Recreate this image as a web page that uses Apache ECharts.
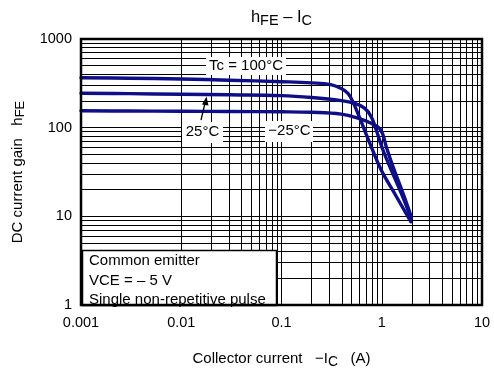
<!DOCTYPE html>
<html>
<head>
<meta charset="utf-8">
<script src="https://cdn.jsdelivr.net/npm/echarts@6/dist/echarts.min.js"></script>
<style>
html,body{margin:0;padding:0;background:#fff;}
#c{width:494px;height:374px;}
</style>
</head>
<body>
<div id="c"></div>
<script>
// ---- data ----
const xTickValues = [0.001, 0.01, 0.1, 1, 10];
const xTickLabels = ['0.001', '0.01', '0.1', '1', '10'];
const yTickValues = [1, 10, 100, 1000];
const yTickLabels = ['1', '10', '100', '1000'];

const seriesNames = ['Tc = 100°C', '25°C', '−25°C'];
const ic100 = [0.001, 0.003, 0.01, 0.03, 0.1, 0.2, 0.31, 0.39, 0.46, 0.515, 0.578, 0.673, 0.785, 0.99, 1.34, 1.95];
const hfe100 = [366, 361, 354, 343, 330, 320, 306, 278, 244, 196, 145, 94, 61, 33, 18.2, 8.7];
const ic25 = [0.001, 0.003, 0.01, 0.03, 0.1, 0.2, 0.394, 0.535, 0.673, 0.785, 0.881, 1.028, 1.245, 1.567, 1.97];
const hfe25 = [244, 242, 238, 235, 230, 219, 202, 188, 166, 133, 94, 56, 33.3, 18.2, 9.5];
const icm25 = [0.001, 0.003, 0.01, 0.03, 0.1, 0.2, 0.394, 0.578, 0.785, 0.951, 1.028, 1.109, 1.294, 1.63, 1.97];
const hfem25 = [155, 154, 153, 152, 151, 149, 142, 128, 112, 98, 83, 61, 36.3, 18.2, 9.9];

const gridMultipliers = [2, 3, 4, 5, 6, 7, 8, 9];

// ---- build ----
function zip(a, b) { return a.map((v, i) => [v, b[i]]); }
function nearestLabel(v, vals, labels) {
  let best = 0, bd = Infinity;
  vals.forEach((t, i) => { const d = Math.abs(Math.log10(v) - Math.log10(t)); if (d < bd) { bd = d; best = i; } });
  return bd < 0.01 ? labels[best] : '';
}
const minorX = [];
xTickValues.slice(0, -1).forEach(d => gridMultipliers.forEach(m => minorX.push({ xAxis: d * m })));
const minorY = [];
yTickValues.slice(0, -1).forEach(d => gridMultipliers.forEach(m => minorY.push({ yAxis: d * m })));

const FONT = 'Liberation Sans, Arial, Helvetica, sans-serif';
const curveColor = '#0e0e86';

const chart = echarts.init(document.getElementById('c'), null, { renderer: 'canvas' });

const curveSeries = [[ic100, hfe100], [ic25, hfe25], [icm25, hfem25]].map((p, i) => ({
  name: seriesNames[i],
  type: 'line',
  data: zip(p[0], p[1]),
  smooth: 0.4,
  showSymbol: false,
  symbol: 'none',
  silent: true,
  z: 5,
  lineStyle: { color: curveColor, width: 3.4, cap: 'round', join: 'round' }
}));

const option = {
  animation: false,
  backgroundColor: '#fff',
  grid: { left: 81, right: 12, top: 39, bottom: 69, show: false },
  xAxis: {
    type: 'log', logBase: 10, min: xTickValues[0], max: xTickValues[xTickValues.length - 1], interval: 1,
    axisLine: { show: false }, axisTick: { show: false },
    splitLine: { show: true, lineStyle: { color: '#000', width: 1 } },
    axisLabel: { color: '#000', fontSize: 14.5, fontFamily: FONT, margin: 10,
      formatter: v => nearestLabel(v, xTickValues, xTickLabels) }
  },
  yAxis: {
    type: 'log', logBase: 10, min: yTickValues[0], max: yTickValues[yTickValues.length - 1], interval: 1,
    axisLine: { show: false }, axisTick: { show: false },
    splitLine: { show: true, lineStyle: { color: '#000', width: 1 } },
    axisLabel: { color: '#000', fontSize: 14.5, fontFamily: FONT, margin: 9,
      formatter: v => nearestLabel(v, yTickValues, yTickLabels) }
  },
  series: [
    {
      type: 'line', data: [], silent: true, z: 1,
      markLine: {
        silent: true, symbol: ['none', 'none'], label: { show: false },
        lineStyle: { color: '#000', width: 1, type: 'solid' },
        emphasis: { disabled: true },
        data: minorX.concat(minorY)
      }
    }
  ].concat(curveSeries),
  graphic: [
    // title
    { type: 'text', x: 281.5, y: 17, z: 100,
      style: { text: '{m|h}{s|FE}{m| – I}{s|C}', align: 'center', verticalAlign: 'middle', fill: '#000',
        rich: { m: { fontSize: 16.5, fontFamily: FONT, lineHeight: 16 },
                s: { fontSize: 14.5, fontFamily: FONT, lineHeight: 14, padding: [7, 0, 0, 0] } } } },
    // x axis name
    { type: 'text', x: 281.5, y: 359, z: 100,
      style: { text: '{m|Collector current   −I}{s|C}{m|   (A)}', align: 'center', verticalAlign: 'middle', fill: '#000',
        rich: { m: { fontSize: 15, fontFamily: FONT, lineHeight: 15 },
                s: { fontSize: 14, fontFamily: FONT, lineHeight: 14, padding: [7, 0, 0, 0] } } } },
    // y axis name
    { type: 'text', x: 18, y: 172, rotation: Math.PI / 2, z: 100,
      style: { text: '{m|DC current gain   h}{s|FE}', align: 'center', verticalAlign: 'middle', fill: '#000',
        rich: { m: { fontSize: 15, fontFamily: FONT, lineHeight: 15 },
                s: { fontSize: 13, fontFamily: FONT, lineHeight: 13, padding: [4, 0, 0, 0] } } } },
    // Tc label
    { type: 'rect', shape: { x: 206, y: 57, width: 80, height: 18 }, style: { fill: '#fff' }, z: 100 },
    { type: 'text', x: 246, y: 66, z: 101,
      style: { text: 'Tc = 100°C', align: 'center', verticalAlign: 'middle', fill: '#000', fontSize: 15, fontFamily: FONT } },
    // 25 label
    { type: 'rect', shape: { x: 182, y: 122, width: 41, height: 21 }, style: { fill: '#fff' }, z: 100 },
    { type: 'text', x: 202.5, y: 132, z: 101,
      style: { text: '25°C', align: 'center', verticalAlign: 'middle', fill: '#000', fontSize: 15, fontFamily: FONT } },
    { type: 'line', shape: { x1: 201, y1: 120, x2: 205.5, y2: 101 }, style: { stroke: '#000', lineWidth: 1.3 }, z: 101 },
    { type: 'polygon', shape: { points: [[206.5, 96.5], [202, 104.5], [208.5, 105.5]] }, style: { fill: '#000' }, z: 101 },
    // -25 label
    { type: 'rect', shape: { x: 265, y: 121, width: 48, height: 21 }, style: { fill: '#fff' }, z: 100 },
    { type: 'text', x: 289.5, y: 131, z: 101,
      style: { text: '−25°C', align: 'center', verticalAlign: 'middle', fill: '#000', fontSize: 15, fontFamily: FONT } },
    // conditions box
    { type: 'rect', shape: { x: 82.5, y: 250.5, width: 194, height: 55 }, style: { fill: '#fff', stroke: '#000', lineWidth: 1.5 }, z: 100 },
    { type: 'text', x: 89, y: 261, z: 101,
      style: { text: 'Common emitter', align: 'left', verticalAlign: 'middle', fill: '#000', fontSize: 15, fontFamily: FONT } },
    { type: 'text', x: 89, y: 281, z: 101,
      style: { text: 'VCE = – 5 V', align: 'left', verticalAlign: 'middle', fill: '#000', fontSize: 15, fontFamily: FONT } },
    { type: 'text', x: 89, y: 300, z: 101,
      style: { text: 'Single non-repetitive pulse', align: 'left', verticalAlign: 'middle', fill: '#000', fontSize: 15, fontFamily: FONT } },
    // plot border on top
    { type: 'rect', shape: { x: 81, y: 39, width: 401, height: 266 }, style: { fill: 'none', stroke: '#000', lineWidth: 2.5 }, z: 102 }
  ]
};
chart.setOption(option);
</script>
</body>
</html>
